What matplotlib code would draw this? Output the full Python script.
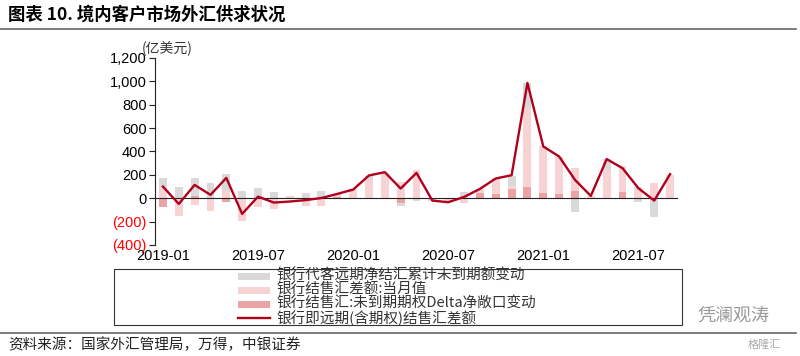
import numpy as np
import matplotlib
matplotlib.use('Agg')
import matplotlib.pyplot as plt
from matplotlib.patches import Rectangle
from matplotlib.lines import Line2D
from matplotlib.ticker import FuncFormatter

plt.rcParams['font.family'] = ['Noto Sans CJK SC', 'DejaVu Sans']

# monthly, 2019-01 .. 2021-09
months = ['2019-01', '2019-02', '2019-03', '2019-04', '2019-05', '2019-06',
          '2019-07', '2019-08', '2019-09', '2019-10', '2019-11', '2019-12',
          '2020-01', '2020-02', '2020-03', '2020-04', '2020-05', '2020-06',
          '2020-07', '2020-08', '2020-09', '2020-10', '2020-11', '2020-12',
          '2021-01', '2021-02', '2021-03', '2021-04', '2021-05', '2021-06',
          '2021-07', '2021-08', '2021-09']

# 银行代客远期净结汇累计未到期额变动
fwd_change = [72, 100, 152, 134, 146, 60, 86, 55, 0, 46, 60, 0,
              0, 35, 0, -23, -26, 0, 0, 51, 0, 0, 86, 215,
              0, 0, -114, 0, 92, 0, -29, -157, 0]
# 银行结售汇差额:当月值
spot_net = [100, -152, -58, -109, 60, -197, -72, -92, 17, -66, -63, 30,
            75, 155, 220, 140, 240, -20, -34, -40, 34, 132, 29, 672,
            400, 315, 191, 20, 243, 215, 100, 129, 200]
# 银行结售汇:未到期期权Delta净敞口变动
delta_change = [-72, 0, 20, 0, -34, 0, 0, 0, 0, 0, 0, 8,
                0, 0, 0, -40, 0, 0, 0, 0, 46, 37, 77, 100,
                43, 37, 66, 0, 0, 57, 0, 0, 0]
# 银行即远期(含期权)结售汇差额
total_net = [100, -49, 114, 29, 174, -134, 14, -37, -28, -16, 2, 37,
             74, 195, 223, 83, 217, -20, -34, 11, 80, 169, 197, 987,
             443, 357, 157, 20, 335, 257, 86, -20, 206]

labels = ['银行代客远期净结汇累计未到期额变动',
          '银行结售汇差额:当月值',
          '银行结售汇:未到期期权Delta净敞口变动',
          '银行即远期(含期权)结售汇差额']

c_gray = '#d9d9d9'
c_light = '#f7d3d3'
c_dark = '#eba3a3'
c_line = '#b0001e'

W, H = 800, 356
fig = plt.figure(figsize=(8, 3.56), dpi=100)
ax = fig.add_axes([0.19375, 0.3118, 0.65375, 0.5253])

x = np.arange(len(months))
pos_base = np.zeros(len(months))
neg_base = np.zeros(len(months))
# stacking order from the zero line outwards: delta, spot, forward
for vals, col in [(delta_change, c_dark), (spot_net, c_light), (fwd_change, c_gray)]:
    v = np.array(vals, dtype=float)
    b = np.where(v >= 0, pos_base, neg_base)
    ax.bar(x, v, bottom=b, width=0.5, color=col, linewidth=0, zorder=2)
    pos_base += np.where(v > 0, v, 0)
    neg_base += np.where(v < 0, v, 0)

ax.plot(x, total_net, color=c_line, lw=1.7, zorder=4)
ax.axhline(0, color='#222222', lw=0.8, zorder=3)

ax.set_xlim(-0.5, len(months) - 0.5)
ax.set_ylim(-400, 1200)
ax.set_yticks(np.arange(-400, 1201, 200))

def yfmt(v, pos):
    if v < 0:
        return '({:,.0f})'.format(-v)
    return '{:,.0f}'.format(v)

ax.yaxis.set_major_formatter(FuncFormatter(yfmt))
for lab in ax.get_yticklabels():
    lab.set_fontfamily('Liberation Sans')
    lab.set_fontsize(10.5)
    if lab.get_text().startswith('('):
        lab.set_color('#ff0000')

tick_idx = [0, 6, 12, 18, 24, 30]
ax.set_xticks(tick_idx)
ax.set_xticklabels([months[i] for i in tick_idx], fontfamily='Liberation Sans', fontsize=10.5)
ax.tick_params(axis='x', length=0, pad=3)
ax.tick_params(axis='y', direction='out', length=4, width=0.8, color='#222222', pad=2)

for s in ['top', 'right', 'bottom']:
    ax.spines[s].set_visible(False)
ax.spines['left'].set_color('#222222')
ax.spines['left'].set_linewidth(0.8)

# header
fig.text(0.01, 0.96, '图表 10. 境内客户市场外汇供求状况', fontsize=12.5, fontweight='bold',
         va='center', ha='left')
fig.add_artist(Line2D([0, 0.995], [0.9185, 0.9185], transform=fig.transFigure,
                      color='#666666', lw=1.2))
fig.text(0.1775, 0.862, '(亿美元)', fontsize=10, va='center', ha='left', color='#333333')

# legend, drawn by hand so the box and row spacing follow the original
fig.add_artist(Rectangle((114 / W, 1 - 325 / H), 568 / W, 56 / H, transform=fig.transFigure,
                         fill=False, edgecolor='#333333', lw=0.8))
rows_y = [276, 290, 304, 318]
for i, (lab, yy) in enumerate(zip(labels, rows_y)):
    yf = 1 - yy / H
    if i < 3:
        col = [c_gray, c_light, c_dark][i]
        fig.add_artist(Rectangle((238 / W, yf - 3.5 / H), 32 / W, 7 / H,
                                 transform=fig.transFigure, color=col, lw=0))
    else:
        fig.add_artist(Line2D([238 / W, 270 / W], [yf, yf], transform=fig.transFigure,
                              color=c_line, lw=1.7))
    fig.text(276 / W, yf, lab, fontsize=10.5, va='center', ha='left', color='#333333')

# footer
fig.add_artist(Line2D([0, 0.995], [0.0646, 0.0646], transform=fig.transFigure,
                      color='#666666', lw=1.2))
fig.text(0.01, 0.031, '资料来源：国家外汇管理局，万得，中银证券', fontsize=10.5, style='italic',
         va='center', ha='left', color='#222222')
fig.text(0.872, 0.112, '凭澜观涛', fontsize=13, va='center', ha='left', color='#9a9a9a')
fig.text(0.935, 0.031, '格隆汇', fontsize=8, va='center', ha='left', color='#aaaaaa')

fig.savefig('out.png', dpi=100)
